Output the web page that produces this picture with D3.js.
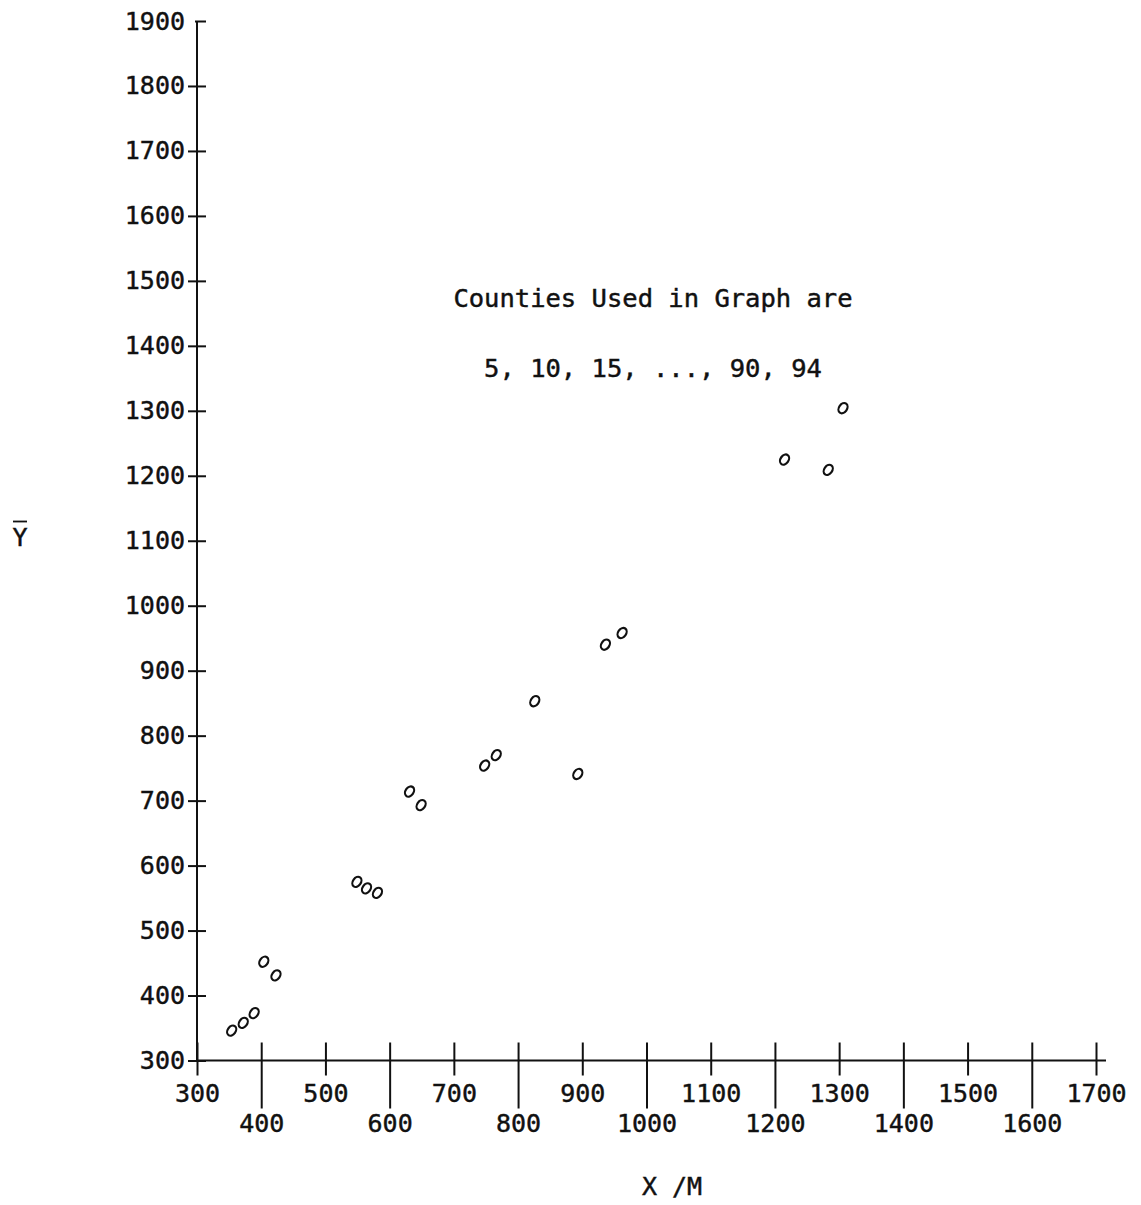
<!DOCTYPE html>
<html>
<head>
<meta charset="utf-8">
<script src="https://cdn.jsdelivr.net/npm/d3@7"></script>
<style>
  body { margin: 0; background: #fff; }
  text { font-family: "DejaVu Sans Mono", "Liberation Mono", monospace; fill: #111; stroke: #111; stroke-width: 0.45; }
</style>
</head>
<body>
<svg width="1141" height="1205"></svg>
<script>
// county means (X/M vs Ybar)
var xm = [354, 372, 389, 404, 423, 549, 564, 581, 631, 649, 748, 766, 826, 893, 936, 962, 1215, 1283, 1306];
var ybar = [346, 358, 373, 452, 431, 575, 565, 558, 714, 693, 754, 770, 853, 741, 940, 958, 1225, 1209, 1304];

var yTicks = d3.range(300, 2000, 100);
var xTicks = d3.range(300, 1800, 100);
var note = ['Counties Used in Graph are', '5, 10, 15, ..., 90, 94'];

var svg = d3.select('svg');

var x = d3.scaleLinear().domain([300, 1700]).range([197, 1096]);
var y = d3.scaleLinear().domain([300, 1900]).range([1060.5, 21]);

//axis lines
svg.append('line')
    .attr('x1', 197).attr('y1', 21)
    .attr('x2', 197).attr('y2', 1061)
    .style('stroke', '#111').style('stroke-width', 2);

svg.append('line')
    .attr('x1', 196).attr('y1', 1060.5)
    .attr('x2', 1106).attr('y2', 1060.5)
    .style('stroke', '#111').style('stroke-width', 2);

// y axis ticks through d3 axis, then reshape the tick marks
var yAxis = svg.append('g')
    .attr('transform', 'translate(197,0)')
    .call(d3.axisLeft(y).tickValues(yTicks).tickFormat(d3.format('d')).tickSize(0).tickPadding(12));
yAxis.select('.domain').remove();
yAxis.selectAll('.tick line')
    .attr('x1', function(d) { return d === 1900 ? -2 : -9; })
    .attr('x2', 9)
    .style('stroke', '#111').style('stroke-width', 2);
yAxis.selectAll('.tick text')
    .attr('font-size', 25)
    .attr('font-family', '"DejaVu Sans Mono", monospace')
    .attr('fill', '#111');

// x axis, labels staggered on two rows
var xAxis = svg.append('g')
    .attr('transform', 'translate(0,1060.5)')
    .call(d3.axisBottom(x).tickValues(xTicks).tickFormat(d3.format('d')).tickSize(0));
xAxis.select('.domain').remove();
xAxis.selectAll('.tick line')
    .attr('y1', -18)
    .attr('y2', function(d) { return (d / 100) % 2 === 0 ? 48 : 15; })
    .style('stroke', '#111').style('stroke-width', 2);
xAxis.selectAll('.tick text')
    .attr('font-size', 25)
    .attr('font-family', '"DejaVu Sans Mono", monospace')
    .attr('fill', '#111')
    .attr('dy', null)
    .attr('y', function(d) { return (d / 100) % 2 === 0 ? 71 : 41; });

// points
svg.append('g').selectAll('ellipse')
    .data(xm)
    .enter()
    .append('ellipse')
    .attr('cx', function(d) { return x(d); })
    .attr('cy', function(d, i) { return y(ybar[i]); })
    .attr('rx', 4)
    .attr('ry', 5.5)
    .attr('transform', function(d, i) { return 'rotate(35,' + x(d) + ',' + y(ybar[i]) + ')'; })
    .style('fill', 'none')
    .style('stroke', '#111')
    .style('stroke-width', 2.2);

// note text
svg.selectAll('.note')
    .data(note)
    .enter()
    .append('text')
    .attr('class', 'note')
    .attr('x', 653)
    .attr('y', function(d, i) { return 307 + i * 70; })
    .attr('text-anchor', 'middle')
    .attr('font-size', 25.5)
    .text(function(d) { return d; });

// axis titles
svg.append('text')
    .attr('x', 20)
    .attr('y', 546)
    .attr('text-anchor', 'middle')
    .attr('font-size', 25)
    .text('Y');
svg.append('line')
    .attr('x1', 13).attr('y1', 521.5)
    .attr('x2', 27).attr('y2', 521.5)
    .style('stroke', '#111').style('stroke-width', 1.8);

svg.append('text')
    .attr('x', 672)
    .attr('y', 1195)
    .attr('text-anchor', 'middle')
    .attr('font-size', 25)
    .text('X /M');
</script>
</body>
</html>
